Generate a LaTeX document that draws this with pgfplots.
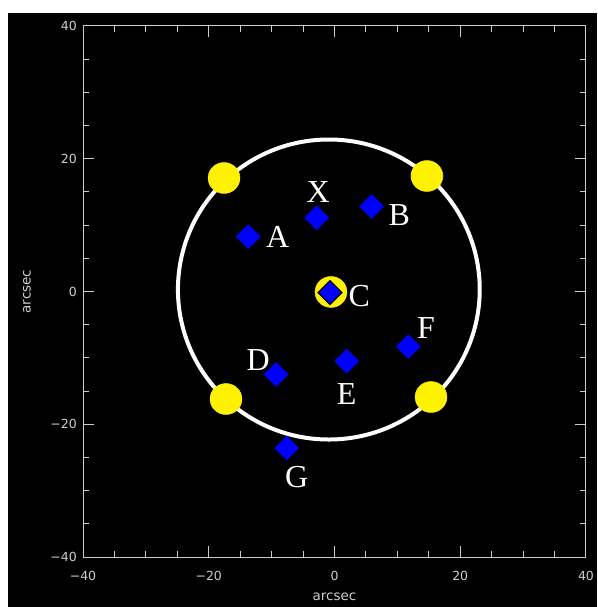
\documentclass[border=0pt]{standalone}
\usepackage{pgfplots}
\pgfplotsset{compat=1.18}
\usepackage{fontspec}
\setmainfont{Liberation Serif}
\newfontfamily\tickfont{DejaVu Sans}
\definecolor{axgray}{RGB}{205,205,205}
\begin{document}
\begin{tikzpicture}
\useasboundingbox (0pt,0pt) rectangle (597pt,607pt);
\fill[white] (0pt,0pt) rectangle (597pt,607pt);
\fill[black] (8pt,0pt) rectangle (597pt,594pt);
\begin{axis}[
 at={(83pt,50pt)}, anchor=south west,
 width=503pt, height=531pt, scale only axis,
 xmin=-40,xmax=40,ymin=-40,ymax=40,
 xtick={-40,-20,0,20,40}, ytick={-40,-20,0,20,40},
 xticklabels={−40,−20,0,20,40}, yticklabels={−40,−20,0,20,40},
 minor x tick num=3, minor y tick num=3,
 tick align=inside,
 major tick length=11pt, minor tick length=6pt,
 axis line style={axgray, line width=1pt},
 every tick/.style={axgray, line width=1pt},
 tick label style={font=\tickfont\fontsize{12.5}{14}\selectfont, text=axgray, inner sep=0pt},
 xticklabel style={yshift=-14pt},
 yticklabel style={xshift=-6pt},
 xlabel={arcsec}, ylabel={arcsec},
 label style={font=\tickfont\fontsize{13.5}{15}\selectfont, text=axgray, inner sep=0pt},
 xlabel style={at={(axis description cs:0.5,-0.0753)}, anchor=center},
 ylabel style={at={(axis description cs:-0.1113,0.5)}, anchor=center},
]
\draw[white, line width=4pt] (axis cs:-0.9,0.3) ellipse [x radius=24.0, y radius=22.6];
\addplot[only marks, mark=*, mark size=15.5pt, mark options={fill=yellow, draw=yellow, xscale=1.03}] coordinates {(-17.57,17.1) (14.7,17.4) (-17.26,-16.2) (15.35,-15.9) (-0.56,-0.07)};
\addplot[only marks, mark=square*, mark size=8.5pt, mark options={rotate=45, fill=blue, draw=blue}] coordinates {(-13.7,8.26) (-2.84,11.1) (5.9,12.8) (-9.3,-12.5) (1.94,-10.5) (11.74,-8.3) (-7.6,-23.6)};
\addplot[only marks, mark=square*, mark size=8.5pt, mark options={rotate=45, fill=blue, draw=black, line width=1pt}] coordinates {(-0.72,-0.18)};
\begin{scope}[every node/.style={text=white, font=\fontsize{32}{36}\selectfont, inner sep=0pt}]
\node at (axis cs:-2.58,15.04) {X};
\node at (axis cs:-9.03,8.26) {A};
\node at (axis cs:10.31,11.53) {B};
\node at (axis cs:3.95,-0.68) {C};
\node at (axis cs:-12.12,-10.32) {D};
\node at (axis cs:1.94,-15.44) {E};
\node at (axis cs:14.55,-5.55) {F};
\node at (axis cs:-6.01,-27.9) {G};
\end{scope}
\end{axis}
\end{tikzpicture}
\end{document}
